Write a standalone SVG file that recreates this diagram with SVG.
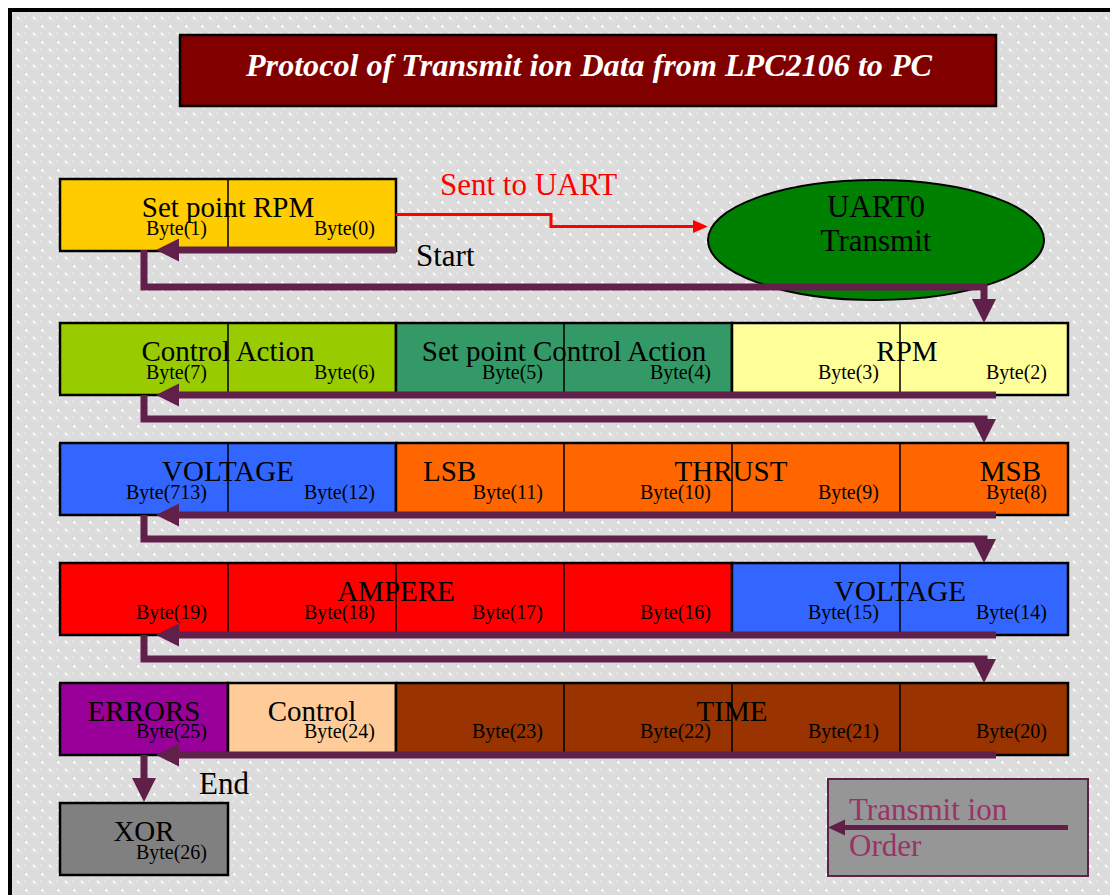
<svg xmlns="http://www.w3.org/2000/svg" width="1110" height="895" viewBox="0 0 1110 895">
  <defs>
    <!-- dotted grey backdrop -->
    <pattern id="bg" x="0" y="0" width="16" height="16" patternUnits="userSpaceOnUse">
      <rect width="16" height="16" fill="#dcdcdc"/>
      <rect x="0" y="0" width="2" height="2" fill="#e8e8e8"/>
      <rect x="4" y="4" width="2" height="2" fill="#e6e6e6"/>
      <rect x="8" y="0" width="2" height="2" fill="#e6e6e6"/>
      <rect x="12" y="12" width="2" height="2" fill="#e6e6e6"/>
      <rect x="2" y="1" width="1" height="3" fill="#ffffff"/>
      <rect x="1" y="2" width="3" height="1" fill="#ffffff"/>
      <rect x="10" y="9" width="1" height="3" fill="#ffffff"/>
      <rect x="9" y="10" width="3" height="1" fill="#ffffff"/>
    </pattern>
    <style>
      .cell { stroke: #000; stroke-width: 2.5; }
      .div { stroke: #000; stroke-width: 1.5; }
      .lbl { font-family: "Liberation Serif", "Times New Roman", serif; font-size: 29px; fill: #000; }
      .byte { font-family: "Liberation Serif", "Times New Roman", serif; font-size: 20px; fill: #000; text-anchor: end; }
      .c { text-anchor: middle; }
      .big { font-family: "Liberation Serif", "Times New Roman", serif; font-size: 31px; }
      .flow { fill: none; stroke: #612049; stroke-width: 7; }
      .head { fill: #612049; }
    </style>
  </defs>

  <!-- page frame -->
  <rect x="10" y="10" width="1110" height="895" fill="url(#bg)" stroke="#000" stroke-width="4"/>

  <!-- title banner -->
  <g id="title">
    <rect x="180" y="35" width="816" height="71" fill="#800000" stroke="#000" stroke-width="2.5"/>
    <text x="589" y="76" text-anchor="middle" font-family="Liberation Serif, Times New Roman, serif" font-size="31" font-weight="bold" font-style="italic" fill="#fff" textLength="686" lengthAdjust="spacingAndGlyphs">Protocol of Transmit ion Data from LPC2106 to PC</text>
  </g>

  <!-- row 1 -->
  <g id="setpoint-rpm">
    <rect class="cell" x="60" y="179" width="336" height="72" fill="#ffcc00"/>
    <line class="div" x1="228" y1="179" x2="228" y2="251"/>
    <text class="lbl c" x="228" y="217">Set point RPM</text>
    <text class="byte" x="207" y="235">Byte(1)</text>
    <text class="byte" x="375" y="235">Byte(0)</text>
  </g>

  <g id="uart0">
    <ellipse cx="876" cy="240" rx="168" ry="60" fill="#008000" stroke="#000" stroke-width="2"/>
    <text class="big c" x="876" y="217">UART0</text>
    <text class="big c" x="876" y="251">Transmit</text>
  </g>

  <!-- row 2 -->
  <g id="control-action">
    <rect class="cell" x="60" y="323" width="336" height="72" fill="#99cc00"/>
    <line class="div" x1="228" y1="323" x2="228" y2="395"/>
    <text class="lbl c" x="228" y="361">Control Action</text>
    <text class="byte" x="207" y="379">Byte(7)</text>
    <text class="byte" x="375" y="379">Byte(6)</text>
  </g>
  <g id="setpoint-control-action">
    <rect class="cell" x="396" y="323" width="336" height="72" fill="#339966"/>
    <line class="div" x1="564" y1="323" x2="564" y2="395"/>
    <text class="lbl c" x="564" y="361">Set point Control Action</text>
    <text class="byte" x="543" y="379">Byte(5)</text>
    <text class="byte" x="711" y="379">Byte(4)</text>
  </g>
  <g id="rpm">
    <rect class="cell" x="732" y="323" width="336" height="72" fill="#ffff99"/>
    <line class="div" x1="900" y1="323" x2="900" y2="395"/>
    <text class="lbl c" x="907" y="361">RPM</text>
    <text class="byte" x="879" y="379">Byte(3)</text>
    <text class="byte" x="1047" y="379">Byte(2)</text>
  </g>

  <!-- row 3 -->
  <g id="voltage-a">
    <rect class="cell" x="60" y="443" width="336" height="72" fill="#3366ff"/>
    <line class="div" x1="228" y1="443" x2="228" y2="515"/>
    <text class="lbl c" x="228" y="481">VOLTAGE</text>
    <text class="byte" x="207" y="499">Byte(713)</text>
    <text class="byte" x="375" y="499">Byte(12)</text>
  </g>
  <g id="thrust">
    <rect class="cell" x="396" y="443" width="672" height="72" fill="#ff6600"/>
    <line class="div" x1="564" y1="443" x2="564" y2="515"/>
    <line class="div" x1="732" y1="443" x2="732" y2="515"/>
    <line class="div" x1="900" y1="443" x2="900" y2="515"/>
    <text class="lbl" x="423" y="481">LSB</text>
    <text class="lbl c" x="731" y="481">THRUST</text>
    <text class="lbl" x="1041" y="481" text-anchor="end">MSB</text>
    <text class="byte" x="543" y="499">Byte(11)</text>
    <text class="byte" x="711" y="499">Byte(10)</text>
    <text class="byte" x="879" y="499">Byte(9)</text>
    <text class="byte" x="1047" y="499">Byte(8)</text>
  </g>

  <!-- row 4 -->
  <g id="ampere">
    <rect class="cell" x="60" y="563" width="672" height="72" fill="#ff0000"/>
    <line class="div" x1="228" y1="563" x2="228" y2="635"/>
    <line class="div" x1="396" y1="563" x2="396" y2="635"/>
    <line class="div" x1="564" y1="563" x2="564" y2="635"/>
    <text class="lbl c" x="396" y="601">AMPERE</text>
    <text class="byte" x="207" y="619">Byte(19)</text>
    <text class="byte" x="375" y="619">Byte(18)</text>
    <text class="byte" x="543" y="619">Byte(17)</text>
    <text class="byte" x="711" y="619">Byte(16)</text>
  </g>
  <g id="voltage-b">
    <rect class="cell" x="732" y="563" width="336" height="72" fill="#3366ff"/>
    <line class="div" x1="900" y1="563" x2="900" y2="635"/>
    <text class="lbl c" x="900" y="601">VOLTAGE</text>
    <text class="byte" x="879" y="619">Byte(15)</text>
    <text class="byte" x="1047" y="619">Byte(14)</text>
  </g>

  <!-- row 5 -->
  <g id="errors">
    <rect class="cell" x="60" y="683" width="168" height="72" fill="#990099"/>
    <text class="lbl c" x="144" y="721">ERRORS</text>
    <text class="byte" x="207" y="738">Byte(25)</text>
  </g>
  <g id="control">
    <rect class="cell" x="228" y="683" width="168" height="72" fill="#ffcc99"/>
    <text class="lbl c" x="312" y="721">Control</text>
    <text class="byte" x="375" y="738">Byte(24)</text>
  </g>
  <g id="time">
    <rect class="cell" x="396" y="683" width="672" height="72" fill="#993300"/>
    <line class="div" x1="564" y1="683" x2="564" y2="755"/>
    <line class="div" x1="732" y1="683" x2="732" y2="755"/>
    <line class="div" x1="900" y1="683" x2="900" y2="755"/>
    <text class="lbl c" x="732" y="721">TIME</text>
    <text class="byte" x="543" y="738">Byte(23)</text>
    <text class="byte" x="711" y="738">Byte(22)</text>
    <text class="byte" x="879" y="738">Byte(21)</text>
    <text class="byte" x="1047" y="738">Byte(20)</text>
  </g>

  <!-- checksum -->
  <g id="xor">
    <rect class="cell" x="60" y="803" width="168" height="72" fill="#808080"/>
    <text class="lbl c" x="144" y="841">XOR</text>
    <text class="byte" x="207" y="859">Byte(26)</text>
  </g>

  <!-- legend -->
  <g id="legend">
    <rect x="828" y="779" width="260" height="97" fill="#969696" stroke="#612049" stroke-width="2"/>
    <text class="big" x="849" y="820" fill="#993366">Transmit ion</text>
    <text class="big" x="849" y="856" fill="#993366">Order</text>
    <line x1="1068" y1="827.5" x2="843" y2="827.5" stroke="#612049" stroke-width="5"/>
    <polygon class="head" points="828,827.5 845,819.5 845,835.5"/>
  </g>

  <!-- connectors -->
  <g id="connectors">
    <!-- to UART -->
    <text class="big" x="440" y="195" fill="#ff0000">Sent to UART</text>
    <polyline points="396,214.5 551,214.5 551,226.5 695,226.5" fill="none" stroke="#ff0000" stroke-width="3"/>
    <polygon points="708,226.5 693,220 693,233" fill="#ff0000"/>

    <text class="big" x="416" y="266">Start</text>
    <text class="big" x="199" y="794">End</text>

    <!-- row 1 -> row 2 -->
    <line class="flow" x1="396" y1="250" x2="176" y2="250"/>
    <polygon class="head" points="156,250 179,238.5 179,261.5"/>
    <path class="flow" d="M144,250 V287 H984 V300"/>
    <polygon class="head" points="972,299 996,299 984,323"/>

    <!-- row 2 -> row 3 -->
    <line class="flow" x1="996" y1="395" x2="176" y2="395"/>
    <polygon class="head" points="156,395 179,383.5 179,406.5"/>
    <path class="flow" d="M144,395 V419 H984 V420"/>
    <polygon class="head" points="972,419 996,419 984,443"/>

    <!-- row 3 -> row 4 -->
    <line class="flow" x1="996" y1="515" x2="176" y2="515"/>
    <polygon class="head" points="156,515 179,503.5 179,526.5"/>
    <path class="flow" d="M144,515 V539 H984 V540"/>
    <polygon class="head" points="972,539 996,539 984,563"/>

    <!-- row 4 -> row 5 -->
    <line class="flow" x1="996" y1="635" x2="176" y2="635"/>
    <polygon class="head" points="156,635 179,623.5 179,646.5"/>
    <path class="flow" d="M144,635 V659 H984 V660"/>
    <polygon class="head" points="972,659 996,659 984,683"/>

    <!-- row 5 -> checksum -->
    <line class="flow" x1="996" y1="755" x2="176" y2="755"/>
    <polygon class="head" points="156,755 179,743.5 179,766.5"/>
    <path class="flow" d="M144,755 V780"/>
    <polygon class="head" points="132,778 156,778 144,802"/>
  </g>
</svg>
